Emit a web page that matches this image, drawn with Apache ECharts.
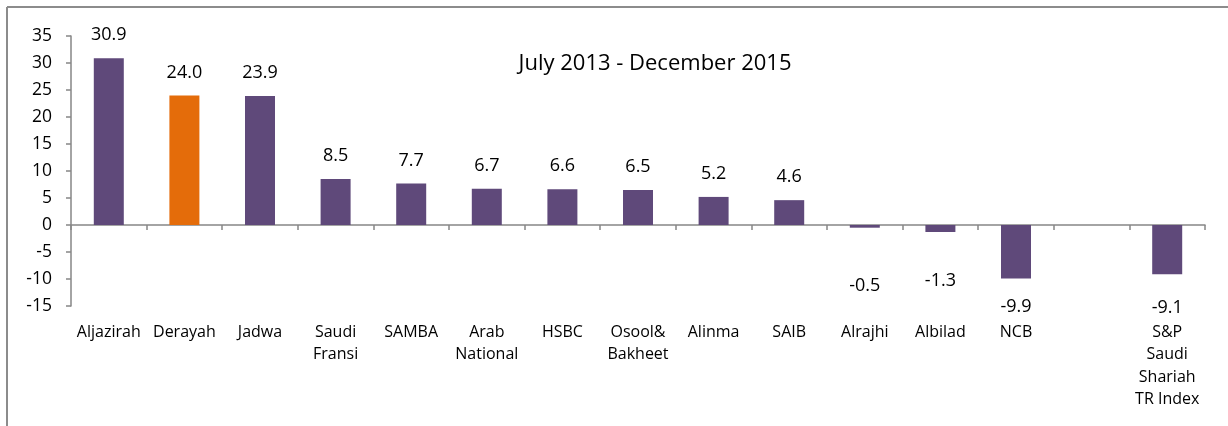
<!DOCTYPE html>
<html>
<head>
<meta charset="utf-8">
<script src="https://cdn.jsdelivr.net/npm/echarts@6/dist/echarts.min.js"></script>
<style>
  html, body { margin: 0; padding: 0; background: #fff; }
  #chart { width: 1228px; height: 426px; }
</style>
</head>
<body>
<div id="chart"></div>
<script>
// data
const categories = ['Aljazirah', 'Derayah', 'Jadwa', 'Saudi\nFransi', 'SAMBA', 'Arab\nNational', 'HSBC',
  'Osool&\nBakheet', 'Alinma', 'SAIB', 'Alrajhi', 'Albilad', 'NCB', '', 'S&P\nSaudi\nShariah\nTR Index'];
const returns = [30.9, 24.0, 23.9, 8.5, 7.7, 6.7, 6.6, 6.5, 5.2, 4.6, -0.5, -1.3, -9.9, null, -9.1];
const yTicks = { min: -15, max: 35, step: 5 };
const titleText = 'July 2013 - December 2015';
const highlight = 'Derayah';

const FONT = '"Open Sans", Lato, sans-serif';
const PURPLE = '#5F497A';
const ORANGE = '#E46C0A';
const AXIS = '#868686';

// the negative labels sit at odd spots in the original, nudge them by hand
const negLabelGap = { 'Alrajhi': 49, 'Albilad': 40, 'NCB': 19, 'S&P\nSaudi\nShariah\nTR Index': 25 };

const chartDom = document.getElementById('chart');
const myChart = echarts.init(chartDom);

const seriesData = returns.map((v, i) => {
  const name = categories[i];
  const item = {
    value: v,
    itemStyle: { color: name === highlight ? ORANGE : PURPLE }
  };
  if (v !== null && v < 0) {
    item.label = { position: 'bottom', distance: negLabelGap[name] || 10 };
  }
  return item;
});

const option = {
  animation: false,
  backgroundColor: '#fff',
  textStyle: { fontFamily: FONT },
  title: {
    text: titleText,
    left: 650,
    top: 48,
    textAlign: 'center',
    textStyle: { fontFamily: FONT, fontSize: 22, fontWeight: 'normal', color: '#000' }
  },
  graphic: [
    { type: 'line', shape: { x1: 7, y1: 7, x2: 1228, y2: 7 }, style: { stroke: '#8c8c8c', lineWidth: 2 } },
    { type: 'line', shape: { x1: 7, y1: 7, x2: 7, y2: 426 }, style: { stroke: '#8c8c8c', lineWidth: 2 } }
  ],
  grid: { left: 71, right: 23, top: 36, bottom: 120 },
  xAxis: [
    {
      type: 'category',
      data: categories,
      axisLine: { onZero: true, lineStyle: { color: AXIS, width: 1.5 } },
      axisTick: { show: true, length: 5, lineStyle: { color: AXIS, width: 1.5 } },
      axisLabel: { show: false }
    },
    {
      type: 'category',
      data: categories,
      position: 'bottom',
      axisLine: { show: false, onZero: false },
      axisTick: { show: false },
      axisLabel: {
        interval: 0,
        margin: 15,
        fontFamily: FONT,
        fontSize: 16,
        lineHeight: 22.5,
        color: '#000'
      }
    }
  ],
  yAxis: {
    type: 'value',
    min: yTicks.min,
    max: yTicks.max,
    interval: yTicks.step,
    splitLine: { show: false },
    axisLine: { show: true, lineStyle: { color: AXIS, width: 1.5 } },
    axisTick: { show: true, length: 5, lineStyle: { color: AXIS, width: 1.5 } },
    axisLabel: { margin: 19, fontFamily: FONT, fontSize: 17.5, color: '#000' }
  },
  series: [
    {
      type: 'bar',
      xAxisIndex: 0,
      data: seriesData,
      barWidth: 30,
      label: {
        show: true,
        position: 'top',
        distance: 14,
        fontFamily: FONT,
        fontSize: 18,
        color: '#000',
        formatter: p => p.value === null ? '' : p.value.toFixed(1)
      }
    }
  ]
};

option && myChart.setOption(option);
</script>
</body>
</html>
